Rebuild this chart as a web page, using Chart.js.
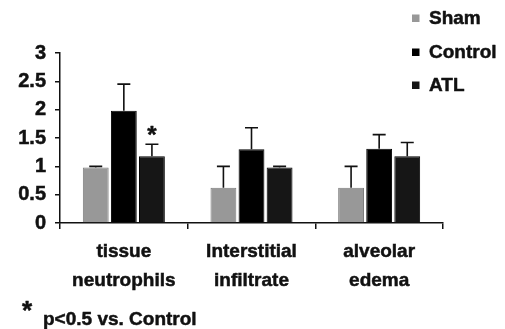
<!DOCTYPE html>
<html>
<head>
<meta charset="utf-8">
<script src="https://cdn.jsdelivr.net/npm/chart.js@4/dist/chart.umd.min.js"></script>
<style>
  html, body { margin: 0; padding: 0; background: #fff; }
  #wrap { width: 505px; height: 329px; position: relative; }
</style>
</head>
<body>
<div id="wrap"><canvas id="c" width="505" height="329"></canvas></div>
<script>
const categories = [["tissue", "neutrophils"], ["Interstitial", "infiltrate"], ["alveolar", "edema"]];
const seriesNames = ["Sham", "Control", "ATL"];
const shamValues = [0.98, 0.62, 0.62];
const controlValues = [1.98, 1.30, 1.31];
const atlValues = [1.18, 0.98, 1.18];
const shamErrTop = [1.00, 1.00, 1.00];
const controlErrTop = [2.45, 1.68, 1.56];
const atlErrTop = [1.39, 1.00, 1.42];
const atlSignificance = ["*", "", ""];
const yTicks = [0, 0.5, 1, 1.5, 2, 2.5, 3];
const footnoteMark = "*";
const footnoteText = "p<0.5 vs. Control";

const FONT = "'Liberation Sans', Arial, sans-serif";
const TEXT = "#111";
const STROKE_W = 0.5;
const colors = ["#989898", "#000000", "#161616"];
const errTops = [shamErrTop, controlErrTop, atlErrTop];
const sigMarks = [["", "", ""], ["", "", ""], atlSignificance];

function heavyText(ctx, s, x, y) {
  ctx.lineWidth = STROKE_W;
  ctx.strokeStyle = TEXT;
  ctx.lineJoin = "round";
  ctx.strokeText(s, x, y);
  ctx.fillText(s, x, y);
}

const errorBars = {
  id: "errorBars",
  afterDatasetsDraw(chart) {
    const ctx = chart.ctx;
    const ys = chart.scales.y;
    ctx.save();
    chart.data.datasets.forEach((ds, i) => {
      const meta = chart.getDatasetMeta(i);
      meta.data.forEach((el, j) => {
        const top = ys.getPixelForValue(errTops[i][j]);
        const x = el.x;
        ctx.strokeStyle = "#111";
        ctx.lineWidth = 1.6;
        ctx.beginPath();
        ctx.moveTo(x, el.y);
        ctx.lineTo(x, top);
        ctx.moveTo(x - 6.5, top);
        ctx.lineTo(x + 6.5, top);
        ctx.stroke();
        const mark = sigMarks[i][j];
        if (mark) {
          ctx.fillStyle = TEXT;
          ctx.font = "bold 24px " + FONT;
          ctx.textAlign = "center";
          ctx.textBaseline = "middle";
          heavyText(ctx, mark, x, top - 8);
        }
      });
    });
    ctx.restore();
  }
};

const extras = {
  id: "extras",
  afterDraw(chart) {
    const ctx = chart.ctx;
    ctx.save();
    ctx.font = "bold 19px " + FONT;
    ctx.textBaseline = "middle";
    ctx.textAlign = "left";
    const ly = [18, 52, 85];
    chart.data.datasets.forEach((ds, i) => {
      ctx.fillStyle = colors[i];
      ctx.fillRect(412, ly[i] - 3.5, 7.5, 7.5);
      ctx.fillStyle = TEXT;
      heavyText(ctx, ds.label, 429, ly[i] + 1);
    });
    ctx.font = "bold 26px " + FONT;
    heavyText(ctx, footnoteMark, 22, 312);
    ctx.font = "bold 19px " + FONT;
    heavyText(ctx, footnoteText, 43, 320);
    ctx.restore();
  }
};

new Chart(document.getElementById("c"), {
  type: "bar",
  data: {
    labels: categories,
    datasets: [
      { label: seriesNames[0], data: shamValues, backgroundColor: colors[0], borderColor: "#7c7c7c", borderWidth: 1 },
      { label: seriesNames[1], data: controlValues, backgroundColor: colors[1], borderColor: "#000", borderWidth: 1 },
      { label: seriesNames[2], data: atlValues, backgroundColor: colors[2], borderColor: "#000", borderWidth: 1 }
    ]
  },
  options: {
    responsive: false,
    animation: false,
    events: [],
    layout: { padding: { top: 53, right: 62, bottom: 0, left: 0 } },
    datasets: { bar: { categoryPercentage: 0.66, barPercentage: 0.92 } },
    plugins: { legend: { display: false }, tooltip: { enabled: false } },
    scales: {
      x: {
        grid: { display: true, drawOnChartArea: false, drawTicks: true, tickLength: 6, color: "#111", lineWidth: 1.5, offset: true },
        border: { display: true, color: "#111", width: 1.5 },
        ticks: { color: TEXT, font: { family: FONT, size: 19, weight: "bold", lineHeight: 1.5 }, padding: 9, maxRotation: 0,
                 textStrokeColor: TEXT, textStrokeWidth: STROKE_W },
        afterFit(scale) { scale.height = 106; }
      },
      y: {
        min: 0, max: 3,
        afterBuildTicks(scale) { scale.ticks = yTicks.map(v => ({ value: v })); },
        grid: { display: true, drawOnChartArea: false, drawTicks: true, tickLength: 5, color: "#111", lineWidth: 1.5 },
        border: { display: true, color: "#111", width: 1.5 },
        ticks: { color: TEXT, font: { family: FONT, size: 20, weight: "bold" }, padding: 9, callback: v => String(v),
                 textStrokeColor: TEXT, textStrokeWidth: STROKE_W },
        afterFit(scale) { scale.width = 60; }
      }
    }
  },
  plugins: [errorBars, extras]
});
</script>
</body>
</html>
